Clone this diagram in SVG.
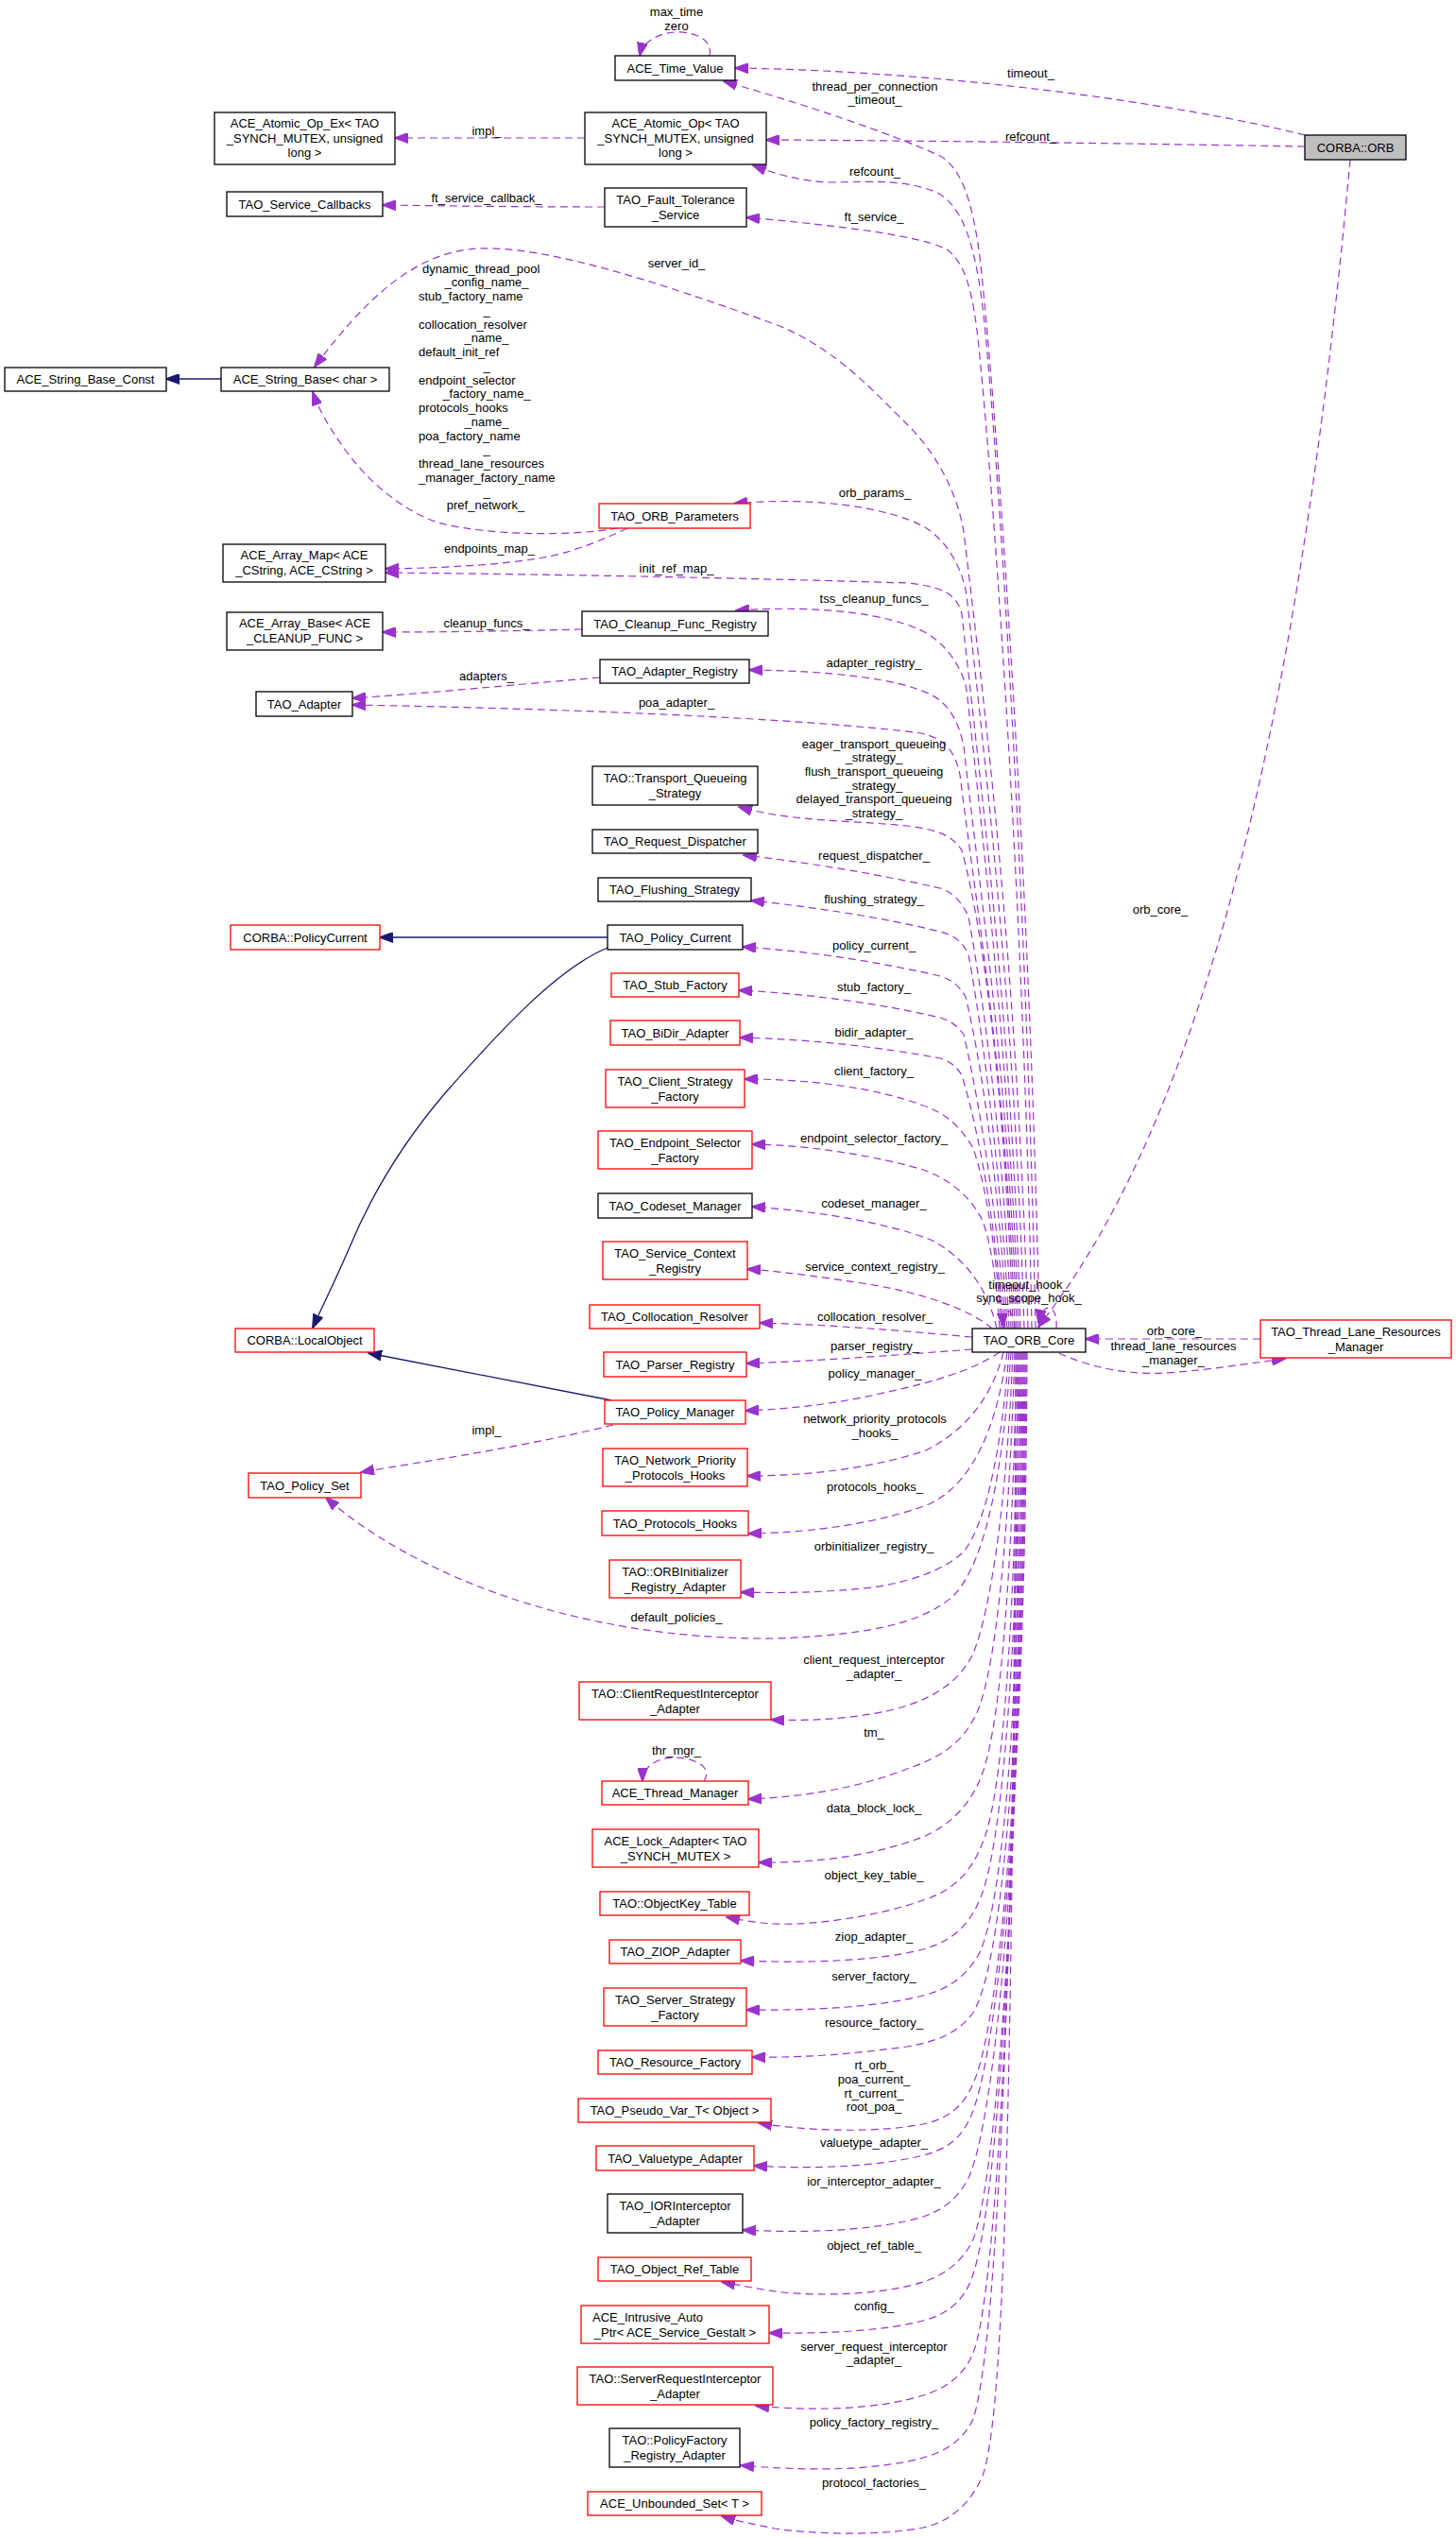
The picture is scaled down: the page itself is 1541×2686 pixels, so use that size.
<svg xmlns="http://www.w3.org/2000/svg" width="1541" height="2686" viewBox="0 0 1541 2686">
<style>
text{font-family:"Liberation Sans",Arial,Helvetica,sans-serif;font-size:13px;fill:#000}
.n rect{fill:#fff;stroke:#000;stroke-width:1.3}
.r rect{stroke:#ff0000}
.g rect{fill:#bfbfbf}
.n text{text-anchor:middle}
.m{text-anchor:middle}
.e{fill:none;stroke:#9a32cd;stroke-width:1.2;stroke-dasharray:8,5;marker-end:url(#ap)}
.i{fill:none;stroke:#191970;stroke-width:1.3;marker-end:url(#an)}
</style>
<defs>
<marker id="ap" markerUnits="userSpaceOnUse" markerWidth="15" markerHeight="11" viewBox="0 0 15 11" refX="14" refY="5.5" orient="auto"><path d="M0,0 L15,5.5 L0,11 z" fill="#9a32cd" stroke="#9a32cd" stroke-width="1"/></marker>
<marker id="an" markerUnits="userSpaceOnUse" markerWidth="15" markerHeight="11" viewBox="0 0 15 11" refX="14" refY="5.5" orient="auto"><path d="M0,0 L15,5.5 L0,11 z" fill="#191970" stroke="#191970" stroke-width="1"/></marker>
</defs>
<rect width="1541" height="2686" fill="#fff"/>

<g id="edges">
<path class="e" d="M751,59 C755,40 732,33 714,34 C696,35 680,45 677,59"/>
<text class="m" x="716" y="16.5">max_time</text>
<text class="m" x="716" y="31.5">zero</text>
<path class="e" d="M1381,143 C1250,110 1000,75 778,72"/>
<text class="m" x="1091" y="81.5">timeout_</text>
<path class="e" d="M1100,1406 C1092,1000 1062,520 1040,300 C1032,215 1018,178 995,165 C940,140 850,110 766,86"/>
<text class="m" x="926" y="95.5">thread_per_connection</text>
<text class="m" x="926" y="109.5">_timeout_</text>
<path class="e" d="M619,146 L418,146"/>
<text class="m" x="515" y="142.5">impl_</text>
<path class="e" d="M1381,155 C1200,152 1000,149 811,148"/>
<text class="m" x="1091" y="148.5">refcount_</text>
<path class="e" d="M1096,1406 C1088,1000 1060,520 1041,333 C1032,255 1018,218 992,204 C960,190 925,192 880,193 C845,192 818,183 797,175"/>
<text class="m" x="926" y="185.5">refcount_</text>
<path class="e" d="M640,219 C560,219 480,218 405,217"/>
<text class="m" x="515" y="213.5">ft_service_callback_</text>
<path class="e" d="M1092,1406 C1085,1000 1055,560 1036,367 C1030,310 1022,278 1002,264 C975,250 900,240 790,230"/>
<text class="m" x="925" y="233.5">ft_service_</text>
<path class="e" d="M1088,1406 C1076,1000 1036,700 1020,563 C1013,520 990,478 958,447 C928,418 885,368 820,343 C700,300 580,260 507,263 C440,266 388,315 333,388"/>
<text class="m" x="716" y="282.5">server_id_</text>
<path class="i" d="M234,401 L176,401"/>
<path class="e" d="M654,559 C600,568 520,566 471,555 C430,545 390,510 366,477 C350,455 338,435 331,415"/>
<text x="447" y="288.5">dynamic_thread_pool</text>
<text class="m" x="515" y="303.3">_config_name_</text>
<text x="443" y="318">stub_factory_name</text>
<text class="m" x="515" y="332.8">_</text>
<text x="443" y="347.5">collocation_resolver</text>
<text class="m" x="515" y="362.3">_name_</text>
<text x="443" y="377">default_init_ref</text>
<text class="m" x="515" y="391.8">_</text>
<text x="443" y="406.6">endpoint_selector</text>
<text class="m" x="515" y="421.3">_factory_name_</text>
<text x="443" y="436.1">protocols_hooks</text>
<text class="m" x="515" y="450.9">_name_</text>
<text x="443" y="465.6">poa_factory_name</text>
<text class="m" x="515" y="480.4">_</text>
<text x="443" y="495.1">thread_lane_resources</text>
<text x="443" y="509.9">_manager_factory_name</text>
<text class="m" x="515" y="524.7">_</text>
<text class="m" x="514" y="539.4">pref_network_</text>
<path class="e" d="M1084,1406 C1075,1100 1048,850 1023,630 C1018,598 1000,570 977,557 C940,537 860,525 777,533"/>
<text class="m" x="926" y="525.5">orb_params_</text>
<path class="e" d="M664,559 C630,575 600,586 575,590 C530,598 470,601 408,602"/>
<text class="m" x="518" y="584.5">endpoints_map_</text>
<path class="e" d="M1080,1406 C1072,1100 1040,850 1018,650 C1013,630 1000,621 960,617 C800,612 600,608 408,606"/>
<text class="m" x="716" y="605.5">init_ref_map_</text>
<path class="e" d="M1078,1406 C1070,1150 1042,900 1023,730 C1018,705 1000,680 977,668 C940,650 870,640 779,646"/>
<text class="m" x="925" y="637.5">tss_cleanup_funcs_</text>
<path class="e" d="M616,666 C540,668 470,669 405,669"/>
<text class="m" x="515" y="663.5">cleanup_funcs_</text>
<path class="e" d="M1076,1406 C1068,1150 1038,950 1020,790 C1015,765 1005,745 985,735 C950,718 880,710 793,709"/>
<text class="m" x="925" y="705.5">adapter_registry_</text>
<path class="e" d="M635,717 C540,725 460,733 373,739"/>
<text class="m" x="515" y="719.5">adapters_</text>
<path class="e" d="M1074,1406 C1066,1150 1036,980 1016,820 C1011,795 1000,782 975,776 C850,760 600,750 373,746"/>
<text class="m" x="716" y="747.5">poa_adapter_</text>
<path class="e" d="M1072,1406 C1066,1200 1045,1000 1018,900 C1008,884 992,878 960,874 C900,868 840,870 782,854"/>
<text class="m" x="925" y="791.5">eager_transport_queueing</text>
<text class="m" x="925" y="805.5">_strategy_</text>
<text class="m" x="925" y="820.5">flush_transport_queueing</text>
<text class="m" x="925" y="835.5">_strategy_</text>
<text class="m" x="925" y="849.5">delayed_transport_queueing</text>
<text class="m" x="925" y="864.5">_strategy_</text>
<path class="e" d="M1070,1406 C1065,1250 1045,1080 1025,970 C1018,955 1010,945 995,940 C930,925 850,912 787,905"/>
<text class="m" x="925" y="909.5">request_dispatcher_</text>
<path class="e" d="M1068,1406 C1062,1280 1045,1120 1025,1010 C1018,996 1010,990 995,986 C930,970 860,960 795,953"/>
<text class="m" x="925" y="955.5">flushing_strategy_</text>
<path class="i" d="M643,992 L402,992"/>
<path class="i" d="M643,1003 C590,1025 530,1090 471,1157 C430,1205 395,1260 370,1320 C355,1355 340,1385 331,1405"/>
<path class="e" d="M1066,1406 C1060,1300 1045,1150 1022,1055 C1015,1043 1008,1037 995,1033 C930,1018 860,1007 786,1002"/>
<text class="m" x="925" y="1004.5">policy_current_</text>
<path class="e" d="M1064,1406 C1058,1310 1040,1180 1020,1095 C1013,1085 1005,1080 995,1077 C930,1062 860,1052 782,1048"/>
<text class="m" x="925" y="1048.5">stub_factory_</text>
<path class="e" d="M1062,1406 C1056,1320 1040,1210 1018,1138 C1012,1128 1005,1123 995,1120 C930,1108 860,1100 783,1098"/>
<text class="m" x="925" y="1096.5">bidir_adapter_</text>
<path class="e" d="M1060,1406 C1055,1330 1045,1260 1030,1215 C1015,1190 1000,1178 977,1170 C930,1152 860,1142 788,1142"/>
<text class="m" x="925" y="1137.5">client_factory_</text>
<path class="e" d="M1058,1406 C1055,1360 1050,1320 1040,1292 C1025,1262 1000,1246 977,1238 C930,1224 860,1212 796,1211"/>
<text class="m" x="925" y="1208.5">endpoint_selector_factory_</text>
<path class="e" d="M1055,1406 C1045,1362 1020,1330 985,1312 C940,1295 870,1282 796,1277"/>
<text class="m" x="925" y="1277.5">codeset_manager_</text>
<path class="e" d="M1050,1406 C1030,1388 980,1368 912,1358 C860,1350 820,1345 791,1343"/>
<text class="m" x="926" y="1344.5">service_context_registry_</text>
<path class="e" d="M1074,1406 C1074,1384 1060,1380 1062,1404"/>
<path class="e" d="M1118,1406 C1120,1380 1104,1376 1099,1400"/>
<text class="m" x="1089" y="1363.5">timeout_hook_</text>
<text class="m" x="1089" y="1377.5">sync_scope_hook_</text>
<path class="e" d="M1429,169 C1385,650 1300,1150 1099,1404"/>
<text class="m" x="1228" y="966.5">orb_core_</text>
<path class="e" d="M1029,1415 C950,1408 880,1402 804,1400"/>
<text class="m" x="926" y="1397.5">collocation_resolver_</text>
<path class="i" d="M647,1482 L390,1432"/>
<path class="e" d="M1029,1428 C950,1434 870,1440 790,1443"/>
<text class="m" x="926" y="1428.5">parser_registry_</text>
<path class="e" d="M1334,1417 L1149,1417"/>
<text class="m" x="1243" y="1412.5">orb_core_</text>
<path class="e" d="M1121,1432 C1160,1450 1200,1455 1234,1453 C1280,1450 1320,1443 1360,1438"/>
<text class="m" x="1242" y="1428.5">thread_lane_resources</text>
<text class="m" x="1242" y="1443.5">_manager_</text>
<path class="e" d="M1058,1431 C1030,1450 990,1462 940,1473 C890,1485 840,1491 789,1493"/>
<text class="m" x="926" y="1457.5">policy_manager_</text>
<path class="e" d="M649,1508 C560,1530 460,1545 382,1558"/>
<text class="m" x="515" y="1517.5">impl_</text>
<path class="e" d="M1062,1431 C1050,1480 1020,1515 980,1535 C920,1555 850,1562 791,1562"/>
<text class="m" x="926" y="1505.5">network_priority_protocols</text>
<text class="m" x="926" y="1520.5">_hooks_</text>
<path class="e" d="M1066,1431 C1055,1510 1030,1570 983,1592 C930,1612 860,1622 792,1623"/>
<text class="m" x="926" y="1577.5">protocols_hooks_</text>
<path class="e" d="M1068,1431 C1060,1530 1045,1610 1020,1642 C1000,1662 960,1675 923,1680 C870,1686 820,1686 784,1685"/>
<text class="m" x="925" y="1640.5">orbinitializer_registry_</text>
<path class="e" d="M1070,1431 C1062,1550 1045,1650 1010,1688 C980,1715 930,1730 820,1734 C600,1736 430,1660 345,1585"/>
<text class="m" x="716" y="1715.5">default_policies_</text>
<path class="e" d="M1072,1431 C1066,1580 1050,1700 1030,1750 C1015,1780 990,1795 960,1805 C920,1818 860,1822 816,1820"/>
<text class="m" x="925" y="1760.5">client_request_interceptor</text>
<text class="m" x="925" y="1775.5">_adapter_</text>
<path class="e" d="M1074,1431 C1068,1620 1055,1760 1035,1810 C1020,1845 995,1860 960,1872 C910,1892 850,1902 792,1904"/>
<text class="m" x="925" y="1837.5">tm_</text>
<path class="e" d="M745,1885 C755,1870 735,1860 714,1860 C695,1860 680,1870 680,1885"/>
<text class="m" x="716" y="1856.5">thr_mgr_</text>
<path class="e" d="M1076,1431 C1072,1650 1060,1820 1040,1876 C1028,1910 1005,1932 977,1944 C930,1962 870,1972 803,1971"/>
<text class="m" x="925" y="1917.5">data_block_lock_</text>
<path class="e" d="M1078,1431 C1075,1700 1062,1900 1040,1950 C1027,1985 1005,2002 977,2011 C930,2028 860,2038 820,2036 C800,2035 785,2032 769,2029"/>
<text class="m" x="925" y="1988.5">object_key_table_</text>
<path class="e" d="M1080,1431 C1078,1750 1060,1960 1037,2010 C1025,2040 1005,2055 977,2063 C930,2075 860,2078 784,2075"/>
<text class="m" x="925" y="2053.5">ziop_adapter_</text>
<path class="e" d="M1082,1431 C1080,1800 1062,2020 1035,2070 C1020,2095 1000,2106 977,2112 C930,2124 860,2128 790,2127"/>
<text class="m" x="925" y="2095.5">server_factory_</text>
<path class="e" d="M1084,1431 C1082,1850 1060,2080 1030,2130 C1015,2150 995,2160 960,2166 C900,2174 850,2178 796,2177"/>
<text class="m" x="925" y="2144.5">resource_factory_</text>
<path class="e" d="M1086,1431 C1084,1900 1055,2150 1030,2205 C1020,2228 1005,2242 977,2248 C930,2257 860,2256 803,2247"/>
<text class="m" x="925" y="2189.5">rt_orb_</text>
<text class="m" x="925" y="2204.5">poa_current_</text>
<text class="m" x="925" y="2219.5">rt_current_</text>
<text class="m" x="925" y="2233.5">root_poa_</text>
<path class="e" d="M1087,1431 C1085,1950 1050,2200 1025,2245 C1015,2265 1000,2275 977,2281 C930,2293 860,2296 798,2292"/>
<text class="m" x="925" y="2271.5">valuetype_adapter_</text>
<path class="e" d="M1085,1431 C1082,2000 1050,2250 1025,2305 C1015,2325 1000,2338 977,2346 C930,2360 860,2364 786,2360"/>
<text class="m" x="925" y="2312.5">ior_interceptor_adapter_</text>
<path class="e" d="M1083,1431 C1080,2050 1050,2320 1030,2370 C1020,2392 1000,2408 977,2415 C930,2430 860,2430 820,2425 C800,2422 780,2418 764,2415"/>
<text class="m" x="925" y="2380.5">object_ref_table_</text>
<path class="e" d="M1081,1431 C1078,2100 1050,2360 1027,2415 C1017,2438 1000,2450 977,2456 C940,2466 880,2470 814,2469"/>
<text class="m" x="925" y="2444.5">config_</text>
<path class="e" d="M1079,1431 C1075,2150 1050,2440 1030,2490 C1020,2515 1000,2528 977,2535 C930,2550 860,2552 800,2546"/>
<text class="m" x="925" y="2487.5">server_request_interceptor</text>
<text class="m" x="925" y="2501.5">_adapter_</text>
<path class="e" d="M1077,1431 C1073,2200 1050,2500 1030,2560 C1020,2582 1000,2595 977,2601 C930,2614 860,2616 784,2609"/>
<text class="m" x="925" y="2567.5">policy_factory_registry_</text>
<path class="e" d="M1075,1431 C1072,2250 1062,2560 1040,2620 C1025,2655 1000,2670 977,2675 C930,2684 860,2682 820,2676 C800,2672 780,2668 764,2663"/>
<text class="m" x="925" y="2631.5">protocol_factories_</text>
</g>

<g id="n_orb" class="n g"><rect x="1381" y="143" width="107" height="26"/><text x="1434.5" y="160.5">CORBA::ORB</text></g>
<g id="n_time_value" class="n"><rect x="651" y="59" width="127" height="26"/><text x="714.5" y="76.5">ACE_Time_Value</text></g>
<g id="n_atomic_op_ex" class="n"><rect x="227" y="119" width="191" height="55"/><text x="322.5" y="135">ACE_Atomic_Op_Ex&lt; TAO</text><text x="322.5" y="150.5">_SYNCH_MUTEX, unsigned</text><text x="322.5" y="166">long &gt;</text></g>
<g id="n_atomic_op" class="n"><rect x="619" y="119" width="192" height="55"/><text x="715" y="135">ACE_Atomic_Op&lt; TAO</text><text x="715" y="150.5">_SYNCH_MUTEX, unsigned</text><text x="715" y="166">long &gt;</text></g>
<g id="n_service_callbacks" class="n"><rect x="240" y="203" width="165" height="26"/><text x="322.5" y="220.5">TAO_Service_Callbacks</text></g>
<g id="n_fault_tolerance" class="n"><rect x="640" y="199" width="150" height="41"/><text x="715" y="215.5">TAO_Fault_Tolerance</text><text x="715" y="231.5">_Service</text></g>
<g id="n_string_base_const" class="n"><rect x="5" y="389" width="171" height="25"/><text x="90.5" y="406">ACE_String_Base_Const</text></g>
<g id="n_string_base" class="n"><rect x="234" y="389" width="178" height="25"/><text x="323" y="406">ACE_String_Base&lt; char &gt;</text></g>
<g id="n_orb_parameters" class="n r"><rect x="634" y="533" width="160" height="26"/><text x="714" y="550.5">TAO_ORB_Parameters</text></g>
<g id="n_array_map" class="n"><rect x="236" y="576" width="172" height="40"/><text x="322" y="592">ACE_Array_Map&lt; ACE</text><text x="322" y="608">_CString, ACE_CString &gt;</text></g>
<g id="n_array_base" class="n"><rect x="240" y="648" width="165" height="40"/><text x="322.5" y="664">ACE_Array_Base&lt; ACE</text><text x="322.5" y="680">_CLEANUP_FUNC &gt;</text></g>
<g id="n_cleanup" class="n"><rect x="616" y="647" width="197" height="26"/><text x="714.5" y="664.5">TAO_Cleanup_Func_Registry</text></g>
<g id="n_adapter_registry" class="n"><rect x="635" y="698" width="158" height="25"/><text x="714" y="715">TAO_Adapter_Registry</text></g>
<g id="n_adapter" class="n"><rect x="271" y="732" width="102" height="26"/><text x="322" y="749.5">TAO_Adapter</text></g>
<g id="n_tqs" class="n"><rect x="627" y="811" width="175" height="41"/><text x="714.5" y="827.5">TAO::Transport_Queueing</text><text x="714.5" y="843.5">_Strategy</text></g>
<g id="n_request_dispatcher" class="n"><rect x="627" y="878" width="175" height="25"/><text x="714.5" y="895">TAO_Request_Dispatcher</text></g>
<g id="n_flushing" class="n"><rect x="633" y="929" width="162" height="25"/><text x="714" y="946">TAO_Flushing_Strategy</text></g>
<g id="n_policy_current_corba" class="n r"><rect x="244" y="979" width="158" height="26"/><text x="323" y="996.5">CORBA::PolicyCurrent</text></g>
<g id="n_policy_current" class="n"><rect x="643" y="979" width="143" height="26"/><text x="714.5" y="996.5">TAO_Policy_Current</text></g>
<g id="n_stub_factory" class="n r"><rect x="647" y="1030" width="135" height="25"/><text x="714.5" y="1047">TAO_Stub_Factory</text></g>
<g id="n_bidir" class="n r"><rect x="646" y="1080" width="137" height="26"/><text x="714.5" y="1097.5">TAO_BiDir_Adapter</text></g>
<g id="n_client_sf" class="n r"><rect x="641" y="1132" width="147" height="40"/><text x="714.5" y="1148.5">TAO_Client_Strategy</text><text x="714.5" y="1164.5">_Factory</text></g>
<g id="n_endpoint_sf" class="n r"><rect x="633" y="1197" width="163" height="40"/><text x="714.5" y="1213.5">TAO_Endpoint_Selector</text><text x="714.5" y="1229.5">_Factory</text></g>
<g id="n_codeset" class="n"><rect x="633" y="1263" width="163" height="26"/><text x="714.5" y="1280.5">TAO_Codeset_Manager</text></g>
<g id="n_service_context" class="n r"><rect x="638" y="1314" width="153" height="40"/><text x="714.5" y="1330.5">TAO_Service_Context</text><text x="714.5" y="1346.5">_Registry</text></g>
<g id="n_collocation" class="n r"><rect x="624" y="1381" width="180" height="25"/><text x="714" y="1398">TAO_Collocation_Resolver</text></g>
<g id="n_local_object" class="n r"><rect x="249" y="1406" width="147" height="25"/><text x="322.5" y="1423">CORBA::LocalObject</text></g>
<g id="n_parser" class="n r"><rect x="639" y="1431" width="151" height="26"/><text x="714.5" y="1448.5">TAO_Parser_Registry</text></g>
<g id="n_policy_manager" class="n r"><rect x="640" y="1482" width="149" height="25"/><text x="714.5" y="1499">TAO_Policy_Manager</text></g>
<g id="n_policy_set" class="n r"><rect x="263" y="1559" width="119" height="26"/><text x="322.5" y="1576.5">TAO_Policy_Set</text></g>
<g id="n_net_prio" class="n r"><rect x="638" y="1533" width="153" height="40"/><text x="714.5" y="1549.5">TAO_Network_Priority</text><text x="714.5" y="1565.5">_Protocols_Hooks</text></g>
<g id="n_protocols_hooks" class="n r"><rect x="637" y="1599" width="155" height="26"/><text x="714.5" y="1616.5">TAO_Protocols_Hooks</text></g>
<g id="n_orbinit" class="n r"><rect x="645" y="1651" width="139" height="40"/><text x="714.5" y="1667.5">TAO::ORBInitializer</text><text x="714.5" y="1683.5">_Registry_Adapter</text></g>
<g id="n_client_req" class="n r"><rect x="613" y="1780" width="203" height="40"/><text x="714.5" y="1796.5">TAO::ClientRequestInterceptor</text><text x="714.5" y="1812.5">_Adapter</text></g>
<g id="n_thread_manager" class="n r"><rect x="637" y="1885" width="155" height="25"/><text x="714.5" y="1902">ACE_Thread_Manager</text></g>
<g id="n_lock_adapter" class="n r"><rect x="627" y="1936" width="176" height="40"/><text x="715" y="1952.5">ACE_Lock_Adapter&lt; TAO</text><text x="715" y="1968.5">_SYNCH_MUTEX &gt;</text></g>
<g id="n_objectkey" class="n r"><rect x="635" y="2002" width="158" height="25"/><text x="714" y="2019">TAO::ObjectKey_Table</text></g>
<g id="n_ziop" class="n r"><rect x="645" y="2053" width="139" height="25"/><text x="714.5" y="2070">TAO_ZIOP_Adapter</text></g>
<g id="n_server_sf" class="n r"><rect x="639" y="2104" width="151" height="40"/><text x="714.5" y="2120.5">TAO_Server_Strategy</text><text x="714.5" y="2136.5">_Factory</text></g>
<g id="n_resource_factory" class="n r"><rect x="633" y="2170" width="163" height="25"/><text x="714.5" y="2187">TAO_Resource_Factory</text></g>
<g id="n_pseudo_var" class="n r"><rect x="612" y="2221" width="204" height="25"/><text x="714" y="2238">TAO_Pseudo_Var_T&lt; Object &gt;</text></g>
<g id="n_valuetype" class="n r"><rect x="631" y="2271" width="167" height="26"/><text x="714.5" y="2288.5">TAO_Valuetype_Adapter</text></g>
<g id="n_ior_interceptor" class="n"><rect x="643" y="2322" width="143" height="41"/><text x="714.5" y="2338.5">TAO_IORInterceptor</text><text x="714.5" y="2354.5">_Adapter</text></g>
<g id="n_object_ref" class="n r"><rect x="633" y="2389" width="162" height="25"/><text x="714" y="2406">TAO_Object_Ref_Table</text></g>
<g id="n_intrusive" class="n r"><rect x="615" y="2440" width="199" height="40"/><text x="627" y="2456.5" style="text-anchor:start">ACE_Intrusive_Auto</text><text x="714.5" y="2472.5">_Ptr&lt; ACE_Service_Gestalt &gt;</text></g>
<g id="n_server_req" class="n r"><rect x="611" y="2505" width="207" height="40"/><text x="714.5" y="2521.5">TAO::ServerRequestInterceptor</text><text x="714.5" y="2537.5">_Adapter</text></g>
<g id="n_policy_factory" class="n"><rect x="645" y="2570" width="138" height="41"/><text x="714" y="2586.5">TAO::PolicyFactory</text><text x="714" y="2602.5">_Registry_Adapter</text></g>
<g id="n_unbounded_set" class="n r"><rect x="622" y="2637" width="184" height="25"/><text x="714" y="2654">ACE_Unbounded_Set&lt; T &gt;</text></g>
<g id="n_orb_core" class="n"><rect x="1029" y="1406" width="120" height="25"/><text x="1089" y="1423">TAO_ORB_Core</text></g>
<g id="n_thread_lane" class="n r"><rect x="1334" y="1397" width="202" height="40"/><text x="1435" y="1413.5">TAO_Thread_Lane_Resources</text><text x="1435" y="1429.5">_Manager</text></g>
</svg>
